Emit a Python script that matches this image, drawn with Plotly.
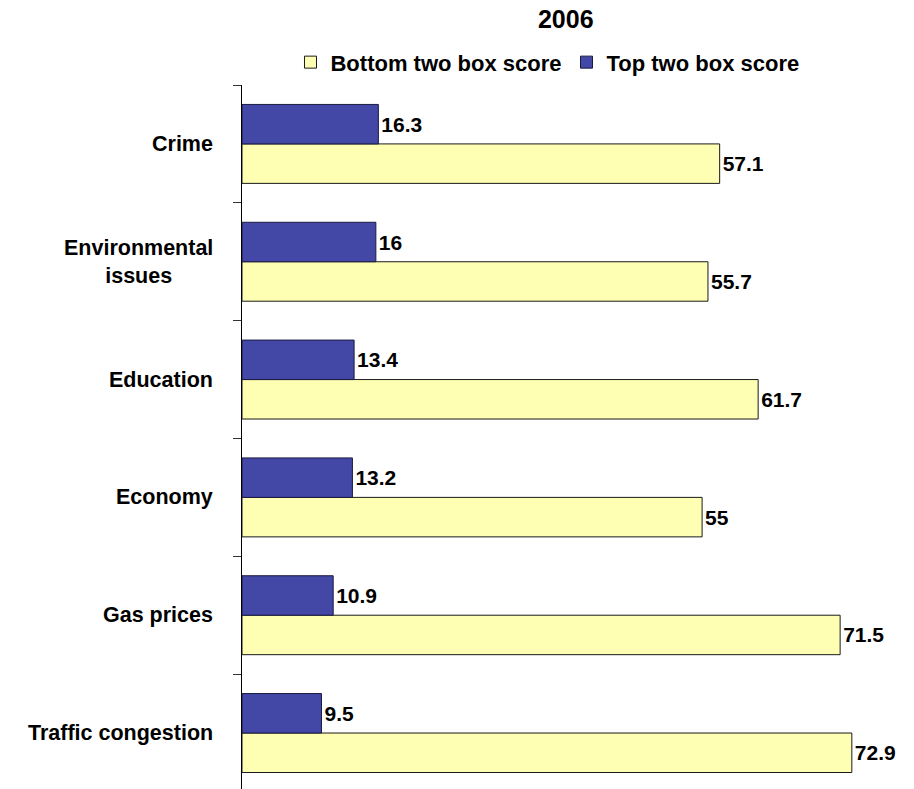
import plotly.graph_objects as go

# Issue categories, listed bottom-to-top along the y axis
categories = ["Traffic congestion", "Gas prices", "Economy", "Education",
              "Environmental<br>issues", "Crime"]
bottom_two = [72.9, 71.5, 55, 61.7, 55.7, 57.1]
top_two = [9.5, 10.9, 13.2, 13.4, 16, 16.3]

title_text = "2006"
series_names = ["Bottom two box score", "Top two box score"]

YELLOW = "#FFFFB3"
BLUE = "#4347A6"
FONT = "Liberation Sans, Arial, sans-serif"

label_font = dict(family=FONT, size=21, color="black", weight="bold")

fig = go.Figure()
fig.add_trace(go.Bar(
    y=categories, x=bottom_two, name=series_names[0], orientation="h",
    marker=dict(color=YELLOW, line=dict(color="#1a1a1a", width=1)),
    text=[str(v) for v in bottom_two], textposition="outside",
    textfont=label_font, cliponaxis=False, hoverinfo="skip",
))
fig.add_trace(go.Bar(
    y=categories, x=top_two, name=series_names[1], orientation="h",
    marker=dict(color=BLUE, line=dict(color="#1a1a40", width=1)),
    text=[str(v) for v in top_two], textposition="outside",
    textfont=label_font, cliponaxis=False, hoverinfo="skip",
))

# Category labels, centred line by line to the left of the axis
for cat in categories:
    fig.add_annotation(
        x=-0.04, xref="paper", y=cat, yref="y", text=cat,
        xanchor="right", yanchor="middle", align="center", showarrow=False,
        font=dict(family=FONT, size=21.5, color="black", weight="bold"),
    )

fig.update_layout(
    width=914, height=789,
    margin=dict(l=242, r=0, t=85, b=0),
    paper_bgcolor="white", plot_bgcolor="white",
    barmode="group", bargap=0.33, bargroupgap=0,
    title=dict(text=title_text, x=0.619, xref="container", xanchor="center",
               y=0.975, yref="container", yanchor="middle",
               font=dict(family=FONT, size=25, color="black", weight="bold")),
    legend=dict(orientation="h", x=0.599, xref="container", xanchor="center",
                y=0.921, yref="container", yanchor="middle",
                font=dict(family=FONT, size=22, color="black", weight="bold"),
                itemclick=False, itemdoubleclick=False),
    uniformtext=dict(mode=False),
    xaxis=dict(range=[0, 80.33], visible=False, fixedrange=True),
    yaxis=dict(type="category", categoryorder="array", categoryarray=categories,
               range=[-0.475, 5.5], showticklabels=False,
               showline=True, linecolor="black", linewidth=1,
               ticks="outside", ticklen=8, tickcolor="#333", tickson="boundaries",
               showgrid=False, zeroline=False, fixedrange=True),
    showlegend=True,
)

fig.write_html("out.html")
